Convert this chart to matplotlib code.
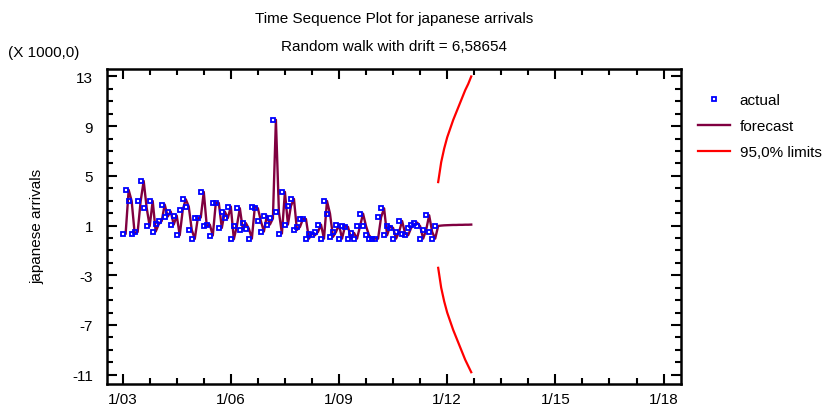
import matplotlib.pyplot as plt
from matplotlib.lines import Line2D
from matplotlib.ticker import MultipleLocator, FixedLocator

plt.rcParams['font.family'] = ['Liberation Sans', 'DejaVu Sans']
plt.rcParams['axes.unicode_minus'] = False

# monthly japanese arrivals (thousands), Jan 2003 .. Sep 2011
actual = [0.36, 3.87, 2.98, 0.36, 0.49, 2.98, 4.59, 2.42, 0.95, 2.98,
          0.52, 1.11, 1.37, 2.69, 1.73, 2.13, 1.08, 1.80, 0.22, 2.26,
          3.12, 2.53, 0.65, -0.07, 1.57, 1.65, 3.71, 0.95, 1.08, 0.20,
          2.82, 2.82, 0.81, 2.13, 1.60, 2.53, -0.10, 0.95, 2.40, 0.68,
          1.20, 0.76, -0.05, 2.53, 2.40, 1.37, 0.52, 1.80, 1.08, 1.57,
          9.51, 2.10, 0.36, 3.71, 1.08, 2.58, 3.15, 0.65, 0.89, 1.53,
          1.53, -0.05, 0.36, 0.22, 0.49, 1.08, -0.05, 2.98, 1.96, 0.09,
          0.49, 1.08, -0.05, 0.95, 0.89, -0.05, 0.41, -0.05, 0.95, 1.96,
          0.95, 0.22, -0.05, -0.05, -0.05, 1.67, 2.39, 0.22, 0.95, 0.81,
          -0.05, 0.49, 1.37, 0.36, 0.22, 0.81, 1.08, 1.24, 0.95, -0.05,
          0.65, 1.83, 0.49, -0.05, 0.95]

# one-step-ahead forecasts (Feb 2003 .. Sep 2011), then 12 months ahead
forecast = [0.36, 3.87, 2.98, 0.36, 0.49, 2.98, 4.59, 2.42, 0.95, 2.98,
            0.52, 1.11, 1.37, 2.69, 1.73, 2.13, 1.08, 1.80, 0.22, 2.26,
            3.12, 2.53, 0.65, -0.07, 1.57, 1.65, 3.71, 0.95, 1.08, 0.20,
            2.82, 2.82, 0.81, 2.13, 1.60, 2.53, -0.10, 0.95, 2.40, 0.68,
            1.20, 0.76, -0.05, 2.53, 2.40, 1.37, 0.52, 1.80, 1.08, 1.57,
            9.51, 2.10, 0.36, 3.71, 1.08, 2.58, 3.15, 0.65, 0.89, 1.53,
            1.53, -0.05, 0.36, 0.22, 0.49, 1.08, -0.05, 2.98, 1.96, 0.09,
            0.49, 1.08, -0.05, 0.95, 0.89, -0.05, 0.41, -0.05, 0.95, 1.96,
            0.95, 0.22, -0.05, -0.05, -0.05, 1.67, 2.39, 0.22, 0.95, 0.81,
            -0.05, 0.49, 1.37, 0.36, 0.22, 0.81, 1.08, 1.24, 0.95, -0.05,
            0.65, 1.83, 0.49, -0.05,
            0.97, 1.00, 1.02, 1.03, 1.04, 1.05, 1.05, 1.06, 1.06, 1.07,
            1.07, 1.08]

upper = [4.5, 6.1, 7.2, 8.1, 8.8, 9.5, 10.1, 10.7, 11.3, 11.9, 12.4, 13.0]
lower = [-2.4, -4.0, -5.1, -6.0, -6.7, -7.4, -8.0, -8.6, -9.2, -9.8, -10.3, -10.8]

tick_months = [0, 36, 72, 108, 144, 180]
tick_labels = ['1/03', '1/06', '1/09', '1/12', '1/15', '1/18']

n = len(actual)
t_actual = list(range(n))
t_forecast = list(range(1, 1 + len(forecast)))
t_limits = list(range(n, n + len(upper)))

line_col = '#800040'
fig = plt.figure(figsize=(8.4, 4.14), dpi=100)
ax = fig.add_axes([0.1274, 0.07, 0.6833, 0.7609])

ax.plot(t_forecast, forecast, color=line_col, lw=1.7, zorder=2)
ax.plot(t_limits, upper, color='red', lw=1.6, zorder=2)
ax.plot(t_limits, lower, color='red', lw=1.6, zorder=2)
ax.plot(t_actual, actual, ls='none', marker='s', ms=3.2, mfc='none',
        mec='blue', mew=1.3, zorder=3)

ax.set_xlim(-5.2, 185.8)
ax.set_ylim(-11.75, 13.6)
ax.xaxis.set_major_locator(FixedLocator(tick_months))
ax.set_xticklabels(tick_labels)
ax.xaxis.set_minor_locator(MultipleLocator(9))
ax.yaxis.set_major_locator(FixedLocator([-11, -7, -3, 1, 5, 9, 13]))
ax.yaxis.set_minor_locator(MultipleLocator(1))
ax.tick_params(which='both', direction='in', top=True, right=True,
               width=1.5, labelsize=11, colors='black')
ax.tick_params(which='major', length=7)
ax.tick_params(which='minor', length=4)
ax.tick_params(axis='y', pad=10)
ax.tick_params(axis='x', pad=6)
for s in ax.spines.values():
    s.set_linewidth(1.8)

fig.text(0.469, 0.955, 'Time Sequence Plot for japanese arrivals',
         ha='center', va='center', fontsize=11)
fig.text(0.469, 0.886, 'Random walk with drift = 6,58654',
         ha='center', va='center', fontsize=11)
fig.text(0.052, 0.872, '(X 1000,0)', ha='center', va='center', fontsize=11)
fig.text(0.045, 0.454, 'japanese arrivals', rotation=90,
         ha='center', va='center', fontsize=11)

handles = [
    Line2D([], [], ls='none', marker='s', ms=3.2, mfc='none', mec='blue', mew=1.3),
    Line2D([], [], color=line_col, lw=1.7),
    Line2D([], [], color='red', lw=1.6),
]
fig.legend(handles, ['actual', 'forecast', '95,0% limits'],
           loc='upper left', bbox_to_anchor=(0.814, 0.806), frameon=False,
           fontsize=11, handlelength=2.15, handletextpad=0.6, labelspacing=0.78)

fig.savefig('out.png', dpi=100)
